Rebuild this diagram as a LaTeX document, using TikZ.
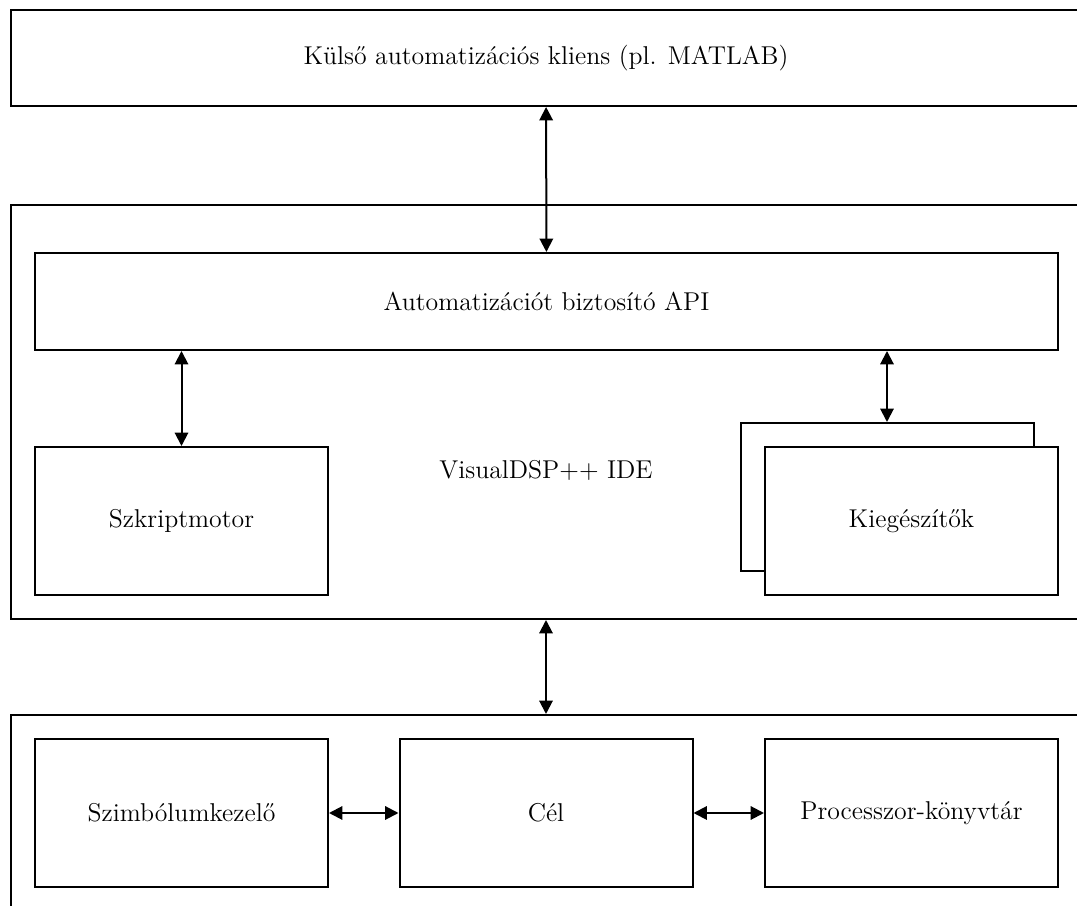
\documentclass[tikz,border=0pt]{standalone}
\usetikzlibrary{arrows.meta,positioning}

\tikzset{
    block/.style={draw, line width=0.9pt, minimum width=131.85pt, minimum height=66.6pt, fill=white},
    frame/.style={draw, line width=0.9pt, minimum width=481.5pt},
    link/.style={line width=0.9pt, {Triangle[length=6pt,width=6pt]}-{Triangle[length=6pt,width=6pt]}}
}

\begin{document}
\begin{tikzpicture}[x=0.45pt,y=-0.45pt,font=\fontsize{11.6}{14}\selectfont]
                    \useasboundingbox (0,0) rectangle (1077,906);
                    \clip (0,0) rectangle (1077,906);
                    % outer frames
                    \node[frame, minimum height=43.2pt] (client node) at (546,58) {Külső automatizációs kliens (pl. MATLAB)};
                    \node[frame, minimum height=186.3pt] (ide node) at (546,412) {};
                    \node[frame, minimum height=88.2pt] (target frame) at (546,813) {};
                    % IDE
                    \node[block, minimum width=460.35pt, minimum height=43.65pt] (api node) at (546.5,301.5) {Automatizációt biztosító API};
                    \node (ide label) at (546,470) {VisualDSP++ IDE};
                    \node[block] (script node) at (181.5,521) {Szkriptmotor};
                    \node[block] (plugin back) at (887,497) {};
                    \node[block] (plugin node) at (911.5,521) {Kiegészítők};
                    % target side
                    \node[block] (symbol node) at (181.5,813) {Szimbólumkezelő};
                    \node[block] (target node) at (546,813) {Cél};
                    \node[block] (proc node) at (911.5,813) {Processzor-könyvtár};
                    \draw[link] (client node) -- (api node);
                    \draw[link] (script node.north |- api node.south) -- (script node.north);
                    \draw[link] (plugin back.north |- api node.south) -- (plugin back.north);
                    \draw[link] (ide node) -- (target frame);
                    \draw[link] (symbol node) -- (target node);
                    \draw[link] (target node) -- (proc node);

                \end{tikzpicture}
\end{document}
